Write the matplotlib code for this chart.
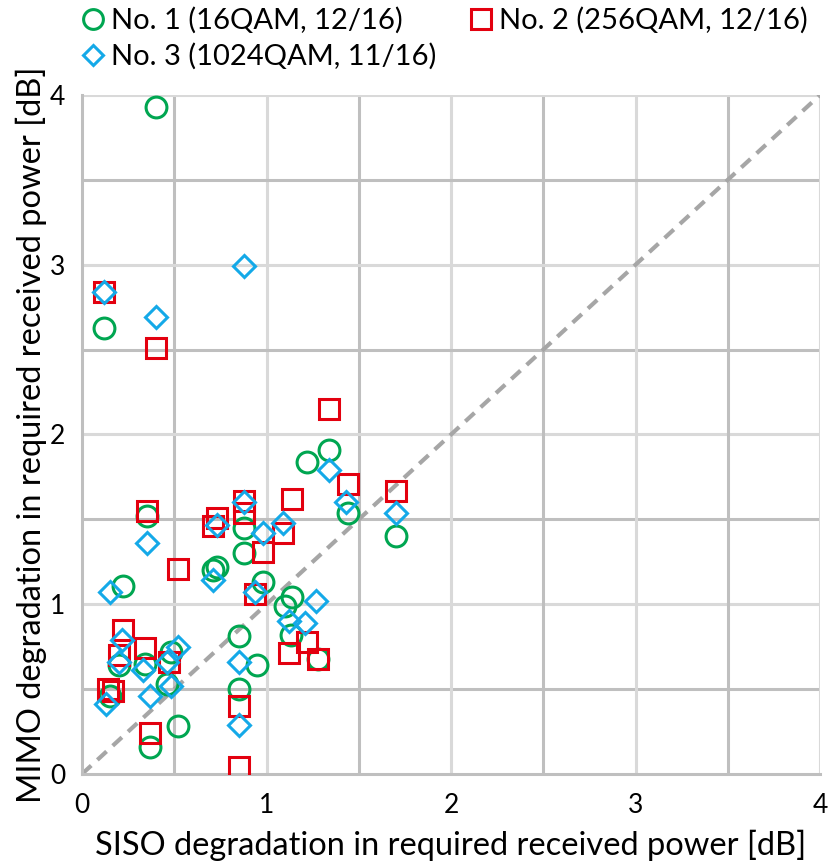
import matplotlib.pyplot as plt
import numpy as np

# series (SISO dB, MIMO dB)
no1_x = [0.40, 0.12, 1.34, 1.22, 1.44, 1.70, 0.35, 0.88, 0.88, 0.73, 0.71, 0.22, 0.98, 1.14,
         1.10, 1.13, 0.85, 0.95, 0.85, 0.52, 0.37, 0.20, 0.34, 0.48, 0.46, 0.15, 1.28]
no1_y = [3.93, 2.63, 1.91, 1.84, 1.54, 1.40, 1.52, 1.45, 1.30, 1.22, 1.20, 1.11, 1.13, 1.04,
         0.99, 0.82, 0.81, 0.64, 0.50, 0.28, 0.16, 0.64, 0.65, 0.72, 0.53, 0.46, 0.68]

no2_x = [0.12, 0.40, 1.34, 1.44, 1.70, 0.88, 0.88, 1.14, 0.35, 0.73, 0.71, 1.09, 0.98, 0.52,
         0.94, 0.22, 0.34, 0.20, 0.47, 0.14, 0.17, 0.37, 0.85, 0.85, 1.12, 1.22, 1.28]
no2_y = [2.84, 2.51, 2.15, 1.71, 1.67, 1.61, 1.54, 1.62, 1.55, 1.51, 1.46, 1.42, 1.31, 1.21,
         1.06, 0.85, 0.74, 0.70, 0.66, 0.50, 0.49, 0.24, 0.40, 0.04, 0.71, 0.78, 0.68]

no3_x = [0.12, 0.40, 0.88, 1.34, 1.43, 1.70, 0.88, 0.73, 0.98, 1.09, 0.35, 0.15, 0.71, 0.94,
         1.27, 1.12, 1.21, 0.215, 0.52, 0.46, 0.20, 0.33, 0.85, 0.48, 0.37, 0.13, 0.85]
no3_y = [2.84, 2.69, 2.99, 1.79, 1.60, 1.54, 1.605, 1.465, 1.42, 1.48, 1.36, 1.07, 1.14, 1.07,
         1.02, 0.90, 0.89, 0.79, 0.75, 0.66, 0.66, 0.61, 0.66, 0.52, 0.46, 0.41, 0.29]

labels = ['No. 1 (16QAM, 12/16)', 'No. 2 (256QAM, 12/16)', 'No. 3 (1024QAM, 11/16)']
ticks = [0, 1, 2, 3, 4]

plt.rcParams['font.family'] = ['Lato', 'DejaVu Sans']

fig = plt.figure(figsize=(8.32, 8.65), dpi=100)
ax = fig.add_axes([0.0986, 0.1052, 0.887, 0.785])

# grid: integer lines light, half lines a bit darker
for v in np.arange(0.5, 4.01, 0.5):
    c = '#D9D9D9' if float(v).is_integer() else '#BFBFBF'
    ax.axvline(v, color=c, lw=2.2, zorder=0)
    ax.axhline(v, color=c, lw=2.2, zorder=0)

ax.plot([0, 4], [0, 4], color='#A6A6A6', lw=3, ls=(0, (3, 2)), zorder=1)

h1, = ax.plot(no1_x, no1_y, 'o', ms=15, mfc='none', mec='#00A651', mew=2.2, label=labels[0], zorder=3)
h2, = ax.plot(no2_x, no2_y, 's', ms=15, mfc='none', mec='#E3000F', mew=2.2, label=labels[1], zorder=3)
h3, = ax.plot(no3_x, no3_y, 'D', ms=11, mfc='none', mec='#14A9E8', mew=2.2, label=labels[2], zorder=4)

ax.set_xlim(0, 4)
ax.set_ylim(0, 4)
ax.set_xticks(ticks)
ax.set_yticks(ticks)
ax.tick_params(length=0, labelsize=19)
ax.tick_params(axis='x', pad=14)
ax.tick_params(axis='y', pad=12)
for s in ['top', 'right']:
    ax.spines[s].set_visible(False)
for s in ['left', 'bottom']:
    ax.spines[s].set_color('#BFBFBF')
    ax.spines[s].set_linewidth(2.2)

ax.set_xlabel('SISO degradation in required received power [dB]', fontsize=23.5, labelpad=8)
ax.set_ylabel('MIMO degradation in required received power [dB]', fontsize=23.5, labelpad=2)

# legend filled row by row: No.1, No.2 / No.3
fig.legend([h1, h3, h2], [labels[0], labels[2], labels[1]], loc='upper left',
           bbox_to_anchor=(0.068, 1.022), ncol=2, frameon=False,
           fontsize=21, handlelength=0.7, handletextpad=0.25, columnspacing=1.2,
           labelspacing=0.3, markerscale=0.95)

plt.savefig('out.png', dpi=100)
